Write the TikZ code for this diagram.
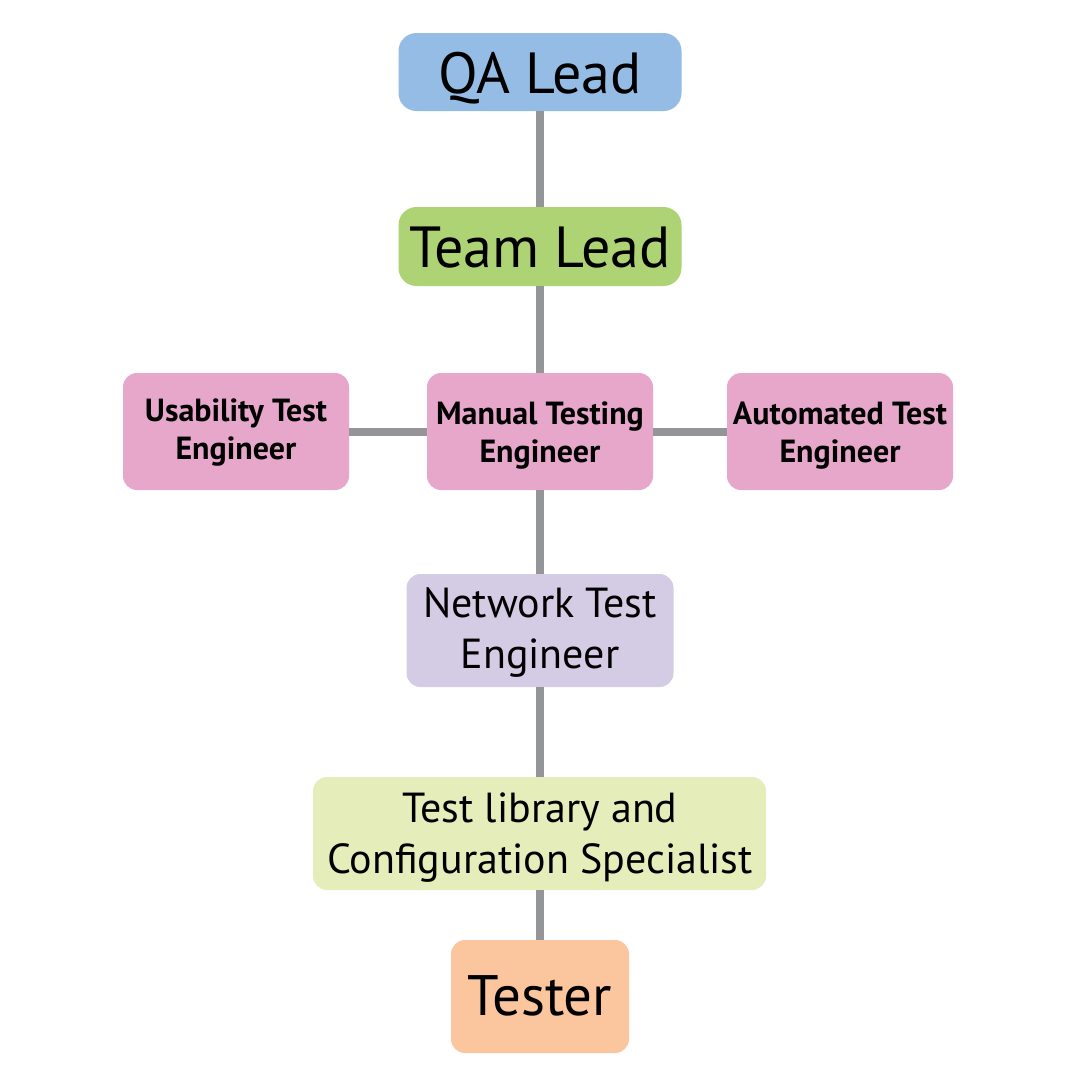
\documentclass[tikz,border=0pt]{standalone}
\usepackage{fontspec}
\setmainfont{PT Sans}
\definecolor{qablue}{HTML}{95BCE5}
\definecolor{teamgreen}{HTML}{ADD374}
\definecolor{rolepink}{HTML}{E6A7CB}
\definecolor{netlav}{HTML}{D4CBE5}
\definecolor{libyellow}{HTML}{E5EDBA}
\definecolor{testerpeach}{HTML}{FBC69E}
\definecolor{linkgray}{HTML}{939598}
\begin{document}
\begin{tikzpicture}[x=1pt,y=-1pt,
  box/.style={rectangle, rounded corners=18pt, inner sep=0pt},
  pinkbox/.style={box, fill=rolepink, rounded corners=14pt, minimum width=226pt, minimum height=117pt},
  lbl/.style={anchor=base, inner sep=0pt, align=center, text=black},
  pinklbl/.style={lbl, font=\fontsize{32}{38}\selectfont\bfseries},
  midlbl/.style={lbl, font=\fontsize{42}{51}\selectfont},
  link/.style={draw=linkgray, line width=8pt}]
\useasboundingbox (0,0) rectangle (1080,1080);
\fill[white] (0,0) rectangle (1080,1080);
% boxes
\node[box, fill=qablue, minimum width=283pt, minimum height=78pt] (qa) at (540,72) {};
\node[box, fill=teamgreen, minimum width=283pt, minimum height=79pt] (team) at (540,246.5) {};
\node[pinkbox] (usab) at (236,431.5) {};
\node[pinkbox] (manual) at (540,431.5) {};
\node[pinkbox] (auto) at (840,431.5) {};
\node[box, fill=netlav, rounded corners=14pt, minimum width=267pt, minimum height=113pt] (net) at (540,630.5) {};
\node[box, fill=libyellow, rounded corners=14pt, minimum width=453pt, minimum height=113pt] (lib) at (539.5,833.5) {};
\node[box, fill=testerpeach, rounded corners=14pt, minimum width=178pt, minimum height=113pt] (tester) at (540,996.5) {};
% connectors
\draw[link] (qa.south) -- (team.north);
\draw[link] (team.south) -- (manual.north);
\draw[link] (usab.east) -- (manual.west);
\draw[link] (manual.east) -- (auto.west);
\draw[link] (manual.south) -- (net.north);
\draw[link] (net.south) -- (lib.north -| net.south);
\draw[link] (lib.south -| tester.north) -- (tester.north);
% labels
\node[lbl, font=\fontsize{58}{64}\selectfont] (qat) at (540,93) {QA Lead};
\node[lbl, font=\fontsize{58}{64}\selectfont] (teamt) at (540,267) {Team Lead};
\node[pinklbl] (usabt) at (236,459) {Usability Test\\Engineer};
\node[pinklbl] (manualt) at (540,462) {Manual Testing\\Engineer};
\node[pinklbl] (autot) at (840,462) {Automated Test\\Engineer};
\node[midlbl] (nett) at (540,668) {Network Test\\Engineer};
\node[midlbl] (libt) at (540,873) {Test library and\\Configuration Specialist};
\node[lbl, font=\fontsize{57}{63}\selectfont] (testert) at (540,1015) {Tester};
\end{tikzpicture}
\end{document}
